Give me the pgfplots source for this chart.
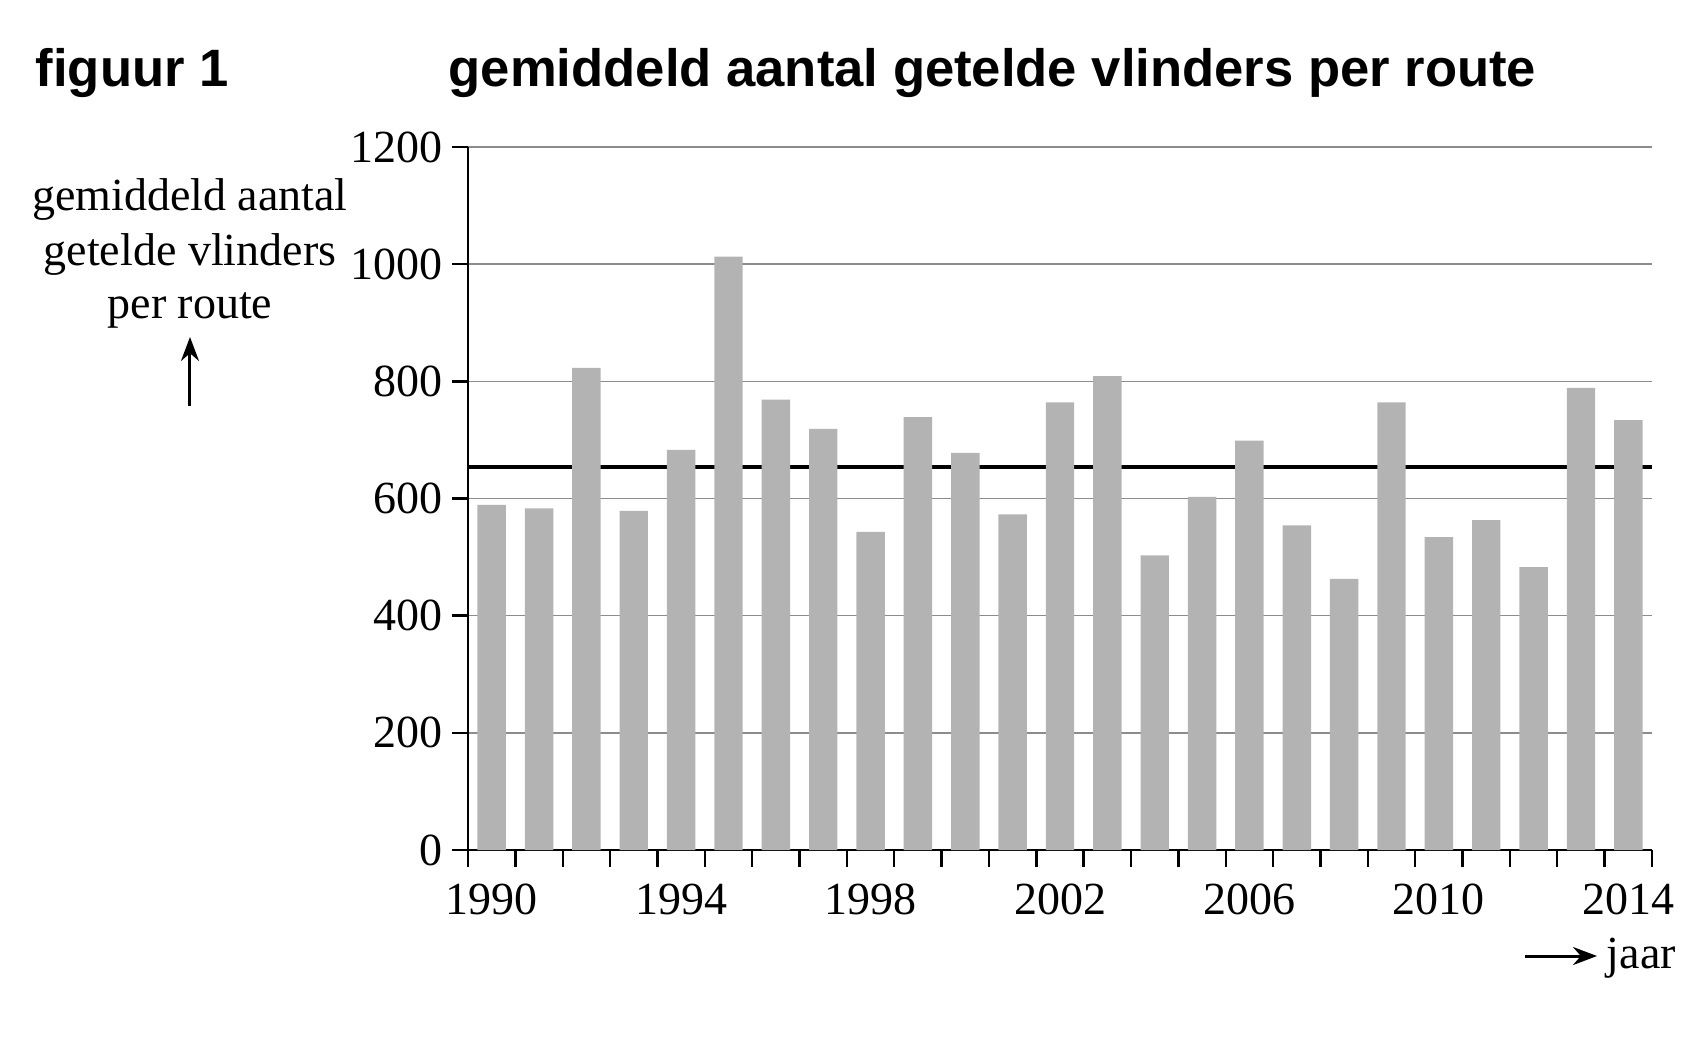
\documentclass[border=0pt]{standalone}
\usepackage{fontspec}
\setmainfont{Liberation Serif}
\newfontfamily\titlefont{Liberation Sans}
\usepackage{pgfplots}
\pgfplotsset{compat=1.18}
\usetikzlibrary{arrows.meta}

\definecolor{bargray}{RGB}{179,179,179}
\definecolor{gridgray}{RGB}{140,140,140}

\begin{document}
\begin{tikzpicture}
\useasboundingbox (-117pt,-47.75pt) rectangle (310pt,212.5pt);
\begin{axis}[
    at={(0,0)}, anchor=south west,
    width=296pt, height=175.75pt, scale only axis,
    xmin=1989.5, xmax=2014.5, ymin=0, ymax=1200,
    axis lines*=left,
    axis line style={black, line width=0.65pt},
    tick align=outside,
    major tick length=4pt,
    minor tick length=4.25pt,
    xtick={1990,1994,...,2014},
    minor xtick={1989.5,1990.5,...,2014.5},
    major x tick style={draw=none},
    minor x tick style={black, line width=0.6pt},
    ytick={0,200,...,1200},
    ytick style={black, line width=0.6pt},
    ymajorgrids,
    grid style={gridgray, line width=0.35pt},
    /pgf/number format/1000 sep={},
    /pgf/number format/assume math mode=true,
    ticklabel style={font=\fontsize{11.5}{13.5}\selectfont},
    xticklabel style={yshift=-1pt},
    yticklabel style={xshift=1.2pt},
    clip=false,
]
\addplot[black, line width=1.1pt] coordinates {(1989.5,654) (2014.5,654)};
\addplot[ybar, bar width=0.6, fill=bargray, draw=none] coordinates {
(1990,589) (1991,583) (1992,823) (1993,579) (1994,683)
(1995,1013) (1996,769) (1997,719) (1998,543) (1999,739)
(2000,678) (2001,573) (2002,764) (2003,809) (2004,503)
(2005,603) (2006,699) (2007,554) (2008,463) (2009,764)
(2010,534) (2011,563) (2012,483) (2013,789) (2014,734)
};
\end{axis}
% titels
\node[anchor=base west, inner sep=0pt, font=\titlefont\bfseries\fontsize{13.15}{15}\selectfont] at (-108.25pt,190.75pt) {figuur 1};
\node[anchor=base west, inner sep=0pt, font=\titlefont\bfseries\fontsize{13.15}{15}\selectfont] at (-5pt,190.75pt) {gemiddeld aantal getelde vlinders per route};
% y-as label
\node[anchor=base, inner sep=0pt, font=\fontsize{11.5}{13.5}\selectfont] at (-69.5pt,160pt) {gemiddeld aantal};
\node[anchor=base, inner sep=0pt, font=\fontsize{11.5}{13.5}\selectfont] at (-69.5pt,146.25pt) {getelde vlinders};
\node[anchor=base, inner sep=0pt, font=\fontsize{11.5}{13.5}\selectfont] at (-69.5pt,133pt) {per route};
\draw[-{Stealth[length=6pt,width=4.5pt]}, line width=0.75pt] (-69.5pt,111pt) -- (-69.5pt,128.25pt);
% x-as label
\draw[-{Stealth[length=6pt,width=4.5pt]}, line width=0.75pt] (264.25pt,-26.5pt) -- (282.25pt,-26.5pt);
\node[anchor=base west, inner sep=0pt, font=\fontsize{11.5}{13.5}\selectfont] at (284.5pt,-29.5pt) {jaar};
\end{tikzpicture}
\end{document}
